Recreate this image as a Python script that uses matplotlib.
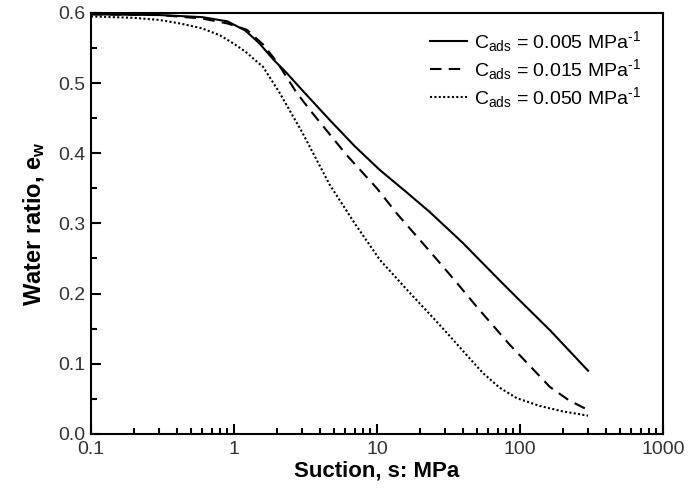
import matplotlib
matplotlib.use("Agg")
import matplotlib.pyplot as plt
from matplotlib.ticker import FixedLocator, FixedFormatter, LogLocator, MultipleLocator, NullFormatter, FormatStrFormatter

plt.rcParams['font.family'] = ['Liberation Sans', 'DejaVu Sans']
plt.rcParams['mathtext.default'] = 'regular'

s_005 = [0.1, 0.3, 0.6, 0.9, 1.2, 1.5, 1.9, 2.3, 3, 4.7, 7, 10.5, 16, 23.5, 40, 72, 100, 162, 300]
e_005 = [0.598, 0.597, 0.594, 0.588, 0.575, 0.557, 0.533, 0.516, 0.49, 0.447, 0.41, 0.376, 0.345, 0.316, 0.272, 0.219, 0.19, 0.148, 0.090]

s_015 = [0.1, 0.3, 0.6, 0.9, 1.23, 1.6, 2, 2.75, 3.55, 6.17, 10, 13.8, 23.5, 35, 50, 85, 120, 162, 220, 300]
e_015 = [0.598, 0.597, 0.592, 0.585, 0.576, 0.555, 0.53, 0.486, 0.457, 0.397, 0.350, 0.314, 0.260, 0.219, 0.181, 0.127, 0.095, 0.067, 0.048, 0.034]

s_050 = [0.1, 0.2, 0.3, 0.42, 0.6, 0.8, 1.0, 1.2, 1.6, 2.09, 3, 4.68, 7, 10.5, 16.3, 24.6, 32.5, 42.6, 55, 72, 95, 137, 200, 300]
e_050 = [0.595, 0.593, 0.590, 0.585, 0.578, 0.568, 0.556, 0.545, 0.523, 0.486, 0.43, 0.355, 0.300, 0.248, 0.205, 0.166, 0.139, 0.112, 0.087, 0.066, 0.051, 0.040, 0.032, 0.026]

labels = ['C$_{ads}$ = 0.005 MPa$^{\u20101}$', 'C$_{ads}$ = 0.015 MPa$^{\u20101}$', 'C$_{ads}$ = 0.050 MPa$^{\u20101}$']
xticks = [0.1, 1, 10, 100, 1000]
xticklabels = ['0.1', '1', '10', '100', '1000']

fig = plt.figure(figsize=(6.89, 4.97), dpi=100)
ax = fig.add_axes([0.132, 0.127, 0.830, 0.847])

ax.plot(s_005, e_005, color='black', lw=1.5, ls='-', label=labels[0])
ax.plot(s_015, e_015, color='black', lw=1.5, ls=(0, (5.5, 3.5)), label=labels[1])
ax.plot(s_050, e_050, color='black', lw=1.5, ls=(0, (1, 1.1)), label=labels[2])

ax.set_xscale('log')
ax.set_xlim(0.1, 1000)
ax.set_ylim(0, 0.6)
ax.xaxis.set_major_locator(FixedLocator(xticks))
ax.xaxis.set_major_formatter(FixedFormatter(xticklabels))
ax.xaxis.set_minor_locator(LogLocator(base=10, subs=range(2, 10)))
ax.xaxis.set_minor_formatter(NullFormatter())
ax.yaxis.set_major_locator(MultipleLocator(0.1))
ax.yaxis.set_minor_locator(MultipleLocator(0.05))
ax.yaxis.set_major_formatter(FormatStrFormatter('%.1f'))

ax.tick_params(which='both', direction='in', top=False, right=False, width=1.5, colors='black', labelcolor='#333333', labelsize=14)
ax.tick_params(which='major', length=7)
ax.tick_params(which='minor', length=4)
ax.tick_params(axis='x', pad=5)
ax.tick_params(axis='y', pad=4)
for sp in ax.spines.values():
    sp.set_linewidth(1.5)

ax.set_xlabel('Suction, s: MPa', fontsize=16, fontweight='bold', labelpad=2)
ax.set_ylabel('Water ratio, e$_{w}$', fontsize=17, fontweight='bold', labelpad=8)

leg = ax.legend(loc='upper right', bbox_to_anchor=(0.9745, 0.9796), frameon=False, fontsize=14,
                handlelength=1.9, handletextpad=0.35, labelspacing=0.15, borderaxespad=0)

fig.savefig('out.png', dpi=100)
